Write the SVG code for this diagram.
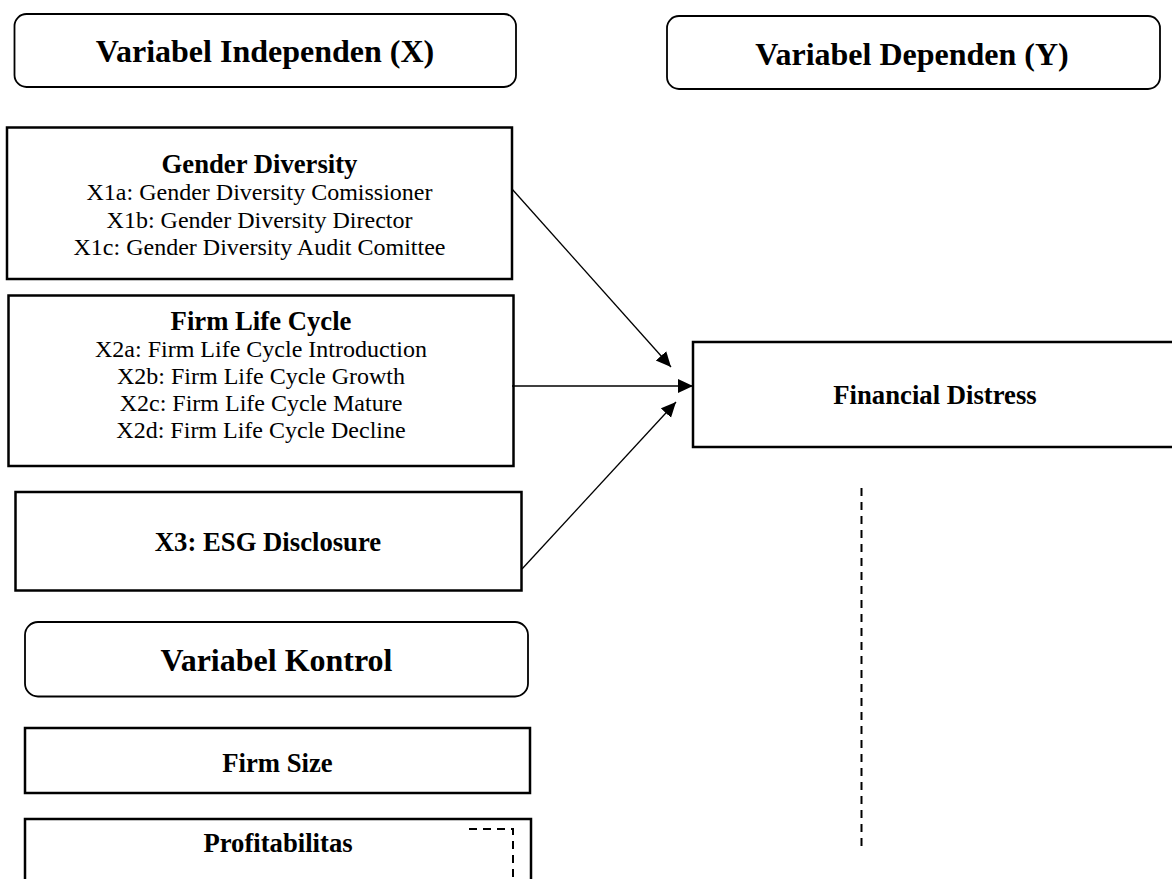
<svg xmlns="http://www.w3.org/2000/svg" width="1172" height="879" viewBox="0 0 1172 879">
<style>
  text { font-family: "Liberation Serif", "Times New Roman", serif; fill: #000; text-anchor: middle; }
  .hdr { font-size: 32px; font-weight: bold; }
  .ttl { font-size: 26.7px; font-weight: bold; }
  .item { font-size: 24px; }
  .rbox { fill: #fff; stroke: #000; stroke-width: 1.8; }
  .box { fill: #fff; stroke: #000; stroke-width: 2.5; }
  .conn { stroke: #000; stroke-width: 1.3; fill: none; marker-end: url(#arrow); }
  .dash { stroke: #000; stroke-width: 2; fill: none; stroke-dasharray: 8 6; }
</style>
<defs>
  <marker id="arrow" markerUnits="userSpaceOnUse" markerWidth="16" markerHeight="15" refX="15" refY="7" orient="auto">
    <path d="M0,0 L15,7 L0,14 z" fill="#000"/>
  </marker>
</defs>
<rect width="1172" height="879" fill="#fff"/>

<g id="hdr-independen">
  <rect class="rbox" x="14.5" y="14" width="501.5" height="73" rx="12"/>
  <text class="hdr" x="265" y="62">Variabel Independen (X)</text>
</g>
<g id="hdr-dependen">
  <rect class="rbox" x="667" y="16" width="493" height="73" rx="12"/>
  <text class="hdr" x="912" y="65">Variabel Dependen (Y)</text>
</g>

<g id="gender-diversity">
  <rect class="box" x="7" y="127.5" width="505" height="151.5"/>
  <text class="ttl" x="259.5" y="173">Gender Diversity</text>
  <text class="item" x="259.5" y="200">X1a: Gender Diversity Comissioner</text>
  <text class="item" x="259.5" y="227.7">X1b: Gender Diversity Director</text>
  <text class="item" x="259.5" y="255">X1c: Gender Diversity Audit Comittee</text>
</g>

<g id="firm-life-cycle">
  <rect class="box" x="8.5" y="295.5" width="505" height="170.5"/>
  <text class="ttl" x="261" y="330">Firm Life Cycle</text>
  <text class="item" x="261" y="356.7">X2a: Firm Life Cycle Introduction</text>
  <text class="item" x="261" y="384.3">X2b: Firm Life Cycle Growth</text>
  <text class="item" x="261" y="411">X2c: Firm Life Cycle Mature</text>
  <text class="item" x="261" y="438.3">X2d: Firm Life Cycle Decline</text>
</g>

<g id="esg-disclosure">
  <rect class="box" x="15.5" y="492" width="506" height="98.5"/>
  <text class="ttl" x="268" y="551">X3: ESG Disclosure</text>
</g>

<g id="financial-distress">
  <rect class="box" x="693" y="342" width="500" height="105"/>
  <text class="ttl" x="935" y="404">Financial Distress</text>
</g>

<g id="hdr-kontrol">
  <rect class="rbox" x="25" y="622" width="503" height="74.5" rx="13"/>
  <text class="hdr" x="276.5" y="671">Variabel Kontrol</text>
</g>

<g id="firm-size">
  <rect class="box" x="25" y="728" width="505" height="65"/>
  <text class="ttl" x="277.5" y="772">Firm Size</text>
</g>

<g id="profitabilitas">
  <rect class="box" x="25" y="819" width="506" height="80"/>
  <text class="ttl" x="278" y="852">Profitabilitas</text>
  <polyline class="dash" points="469,829 513,829 513,879" stroke-dasharray="7 5"/>
</g>

<g id="connectors">
  <line class="conn" x1="512" y1="189" x2="671" y2="367"/>
  <line class="conn" x1="512" y1="386" x2="693" y2="386"/>
  <line class="conn" x1="522" y1="569" x2="676" y2="402"/>
  <line class="dash" x1="861.5" y1="488" x2="861.5" y2="852"/>
</g>
</svg>
